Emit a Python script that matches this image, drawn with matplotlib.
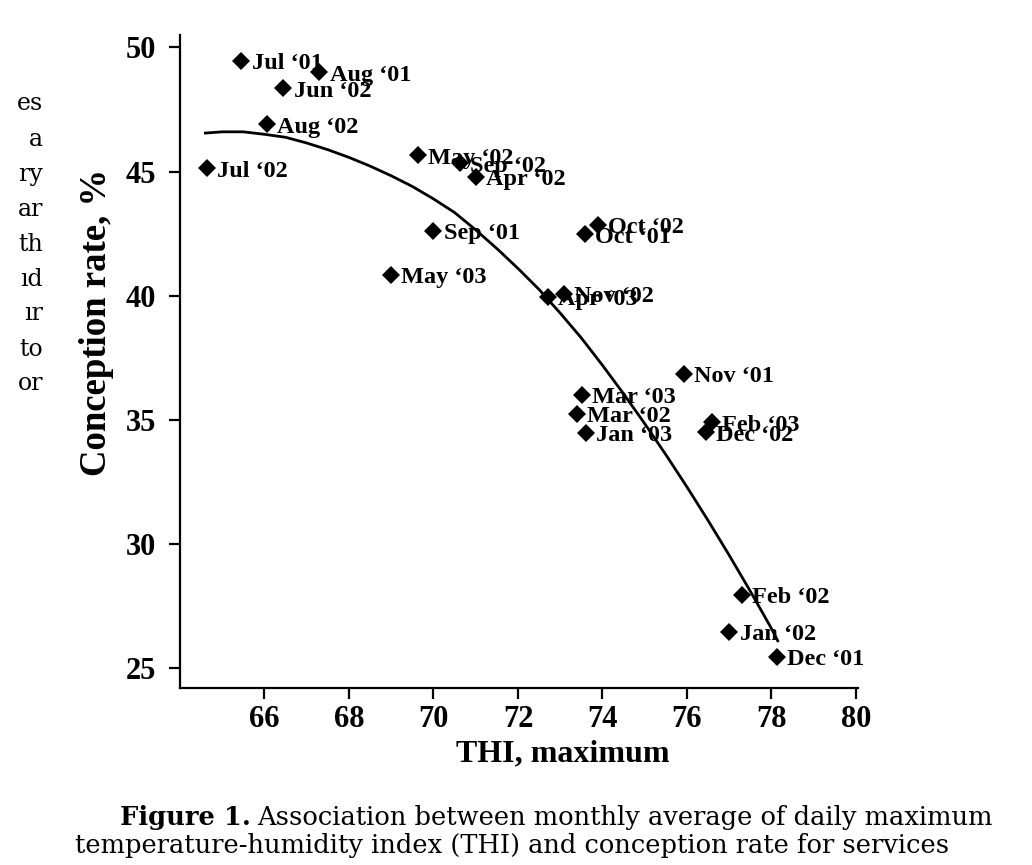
import numpy as np
import matplotlib
matplotlib.use('Agg')
import matplotlib.pyplot as plt

# monthly points: max THI vs conception rate (%)
months = ["Jul ‘01", "Aug ‘01", "Jun ‘02", "Aug ‘02", "Jul ‘02", "May ‘02", "Sep ‘02",
          "Apr ‘02", "Sep ‘01", "Oct ‘02", "Oct ‘01", "May ‘03", "Nov ‘02", "Apr ‘03",
          "Nov ‘01", "Mar ‘03", "Mar ‘02", "Jan ‘03", "Feb ‘03", "Dec ‘02", "Feb ‘02",
          "Jan ‘02", "Dec ‘01"]
thi_max = [65.45, 67.30, 66.45, 66.05, 64.63, 69.63, 70.62,
           71.00, 70.00, 73.89, 73.58, 68.99, 73.09, 72.71,
           75.93, 73.51, 73.39, 73.60, 76.59, 76.45, 77.30,
           77.00, 78.13]
conception = [49.45, 48.99, 48.35, 46.90, 45.13, 45.65, 45.33,
              44.80, 42.60, 42.84, 42.47, 40.83, 40.06, 39.94,
              36.84, 36.00, 35.23, 34.47, 34.90, 34.50, 27.95,
              26.46, 25.45]

# fitted curve
curve_thi = [64.6, 65.0, 65.5, 66.0, 66.5, 67.0, 67.5, 68.0, 68.5, 69.0, 69.5, 70.0,
             70.5, 71.0, 71.5, 72.0, 72.5, 73.0, 73.5, 74.0, 74.5, 75.0, 75.5, 76.0,
             76.5, 77.0, 77.5, 78.0, 78.15]
curve_rate = [46.55, 46.6, 46.6, 46.5, 46.38, 46.15, 45.88, 45.57, 45.22, 44.83, 44.4, 43.9,
              43.35, 42.65, 41.9, 41.1, 40.25, 39.3, 38.3, 37.2, 36.05, 34.85, 33.6, 32.3,
              30.95, 29.55, 28.1, 26.6, 26.1]

x_ticks = [66, 68, 70, 72, 74, 76, 78, 80]
y_ticks = [25, 30, 35, 40, 45, 50]

# cut-off words from the neighbouring text column
side_text = ["es", "a", "ry", "ar", "th", "ıd", "ır", "to", "or"]

caption_bold = "Figure 1."
caption_1 = "Association between monthly average of daily maximum"
caption_2 = "temperature-humidity index (THI) and conception rate for services"

plt.rcParams['font.family'] = ['Liberation Serif', 'DejaVu Serif']
plt.rcParams['font.weight'] = 'bold'

fig = plt.figure(figsize=(10.32, 8.65), dpi=100)
W, H = 1032, 865
ax = fig.add_axes([180 / W, 1 - 688 / H, 678 / W, 653 / H])

ax.plot(curve_thi, curve_rate, color='black', lw=2.0)
ax.plot(thi_max, conception, linestyle='none', marker='D', markersize=9.5,
        color='black', markeredgewidth=0)
for lab, x, y in zip(months, thi_max, conception):
    ax.annotate(lab, (x, y), xytext=(7.5, -2), textcoords='offset points',
                ha='left', va='center', fontsize=17.5, fontweight='bold')

ax.set_xlim(64, 80.05)
ax.set_ylim(24.2, 50.5)
ax.set_xticks(x_ticks)
ax.set_yticks(y_ticks)
for s in ['top', 'right']:
    ax.spines[s].set_visible(False)
for s in ['left', 'bottom']:
    ax.spines[s].set_linewidth(1.6)
ax.tick_params(direction='out', length=8, width=1.6, labelsize=22, pad=4)
ax.tick_params(axis='y', pad=9)
for t in ax.get_xticklabels() + ax.get_yticklabels():
    t.set_fontweight('bold')

ax.set_xlabel("THI, maximum", fontsize=23, fontweight='bold')
ax.xaxis.set_label_coords(0.565, -0.078)
ax.set_ylabel("Conception rate, %", fontsize=26.5, fontweight='bold')
ax.yaxis.set_label_coords(-0.097, 0.56)

# left column fragments
for i, w in enumerate(side_text):
    fig.text(43 / W, 1 - (104 + i * 35) / H, w, ha='right', va='center',
             fontsize=17, fontweight='normal', family='DejaVu Serif')

# caption
t0 = fig.text(120 / W, 1 - 817 / H, caption_bold, ha='left', va='center', fontsize=18.5,
              fontweight='bold', family='DejaVu Serif')
fig.canvas.draw()
bb = t0.get_window_extent()
fig.text((bb.x1 + 6) / W, 1 - 817 / H, caption_1, ha='left', va='center', fontsize=18.5,
         fontweight='normal', family='DejaVu Serif')
fig.text(75 / W, 1 - 845 / H, caption_2, ha='left', va='center', fontsize=18.5,
         fontweight='normal', family='DejaVu Serif')

fig.savefig('out.png', dpi=100)
